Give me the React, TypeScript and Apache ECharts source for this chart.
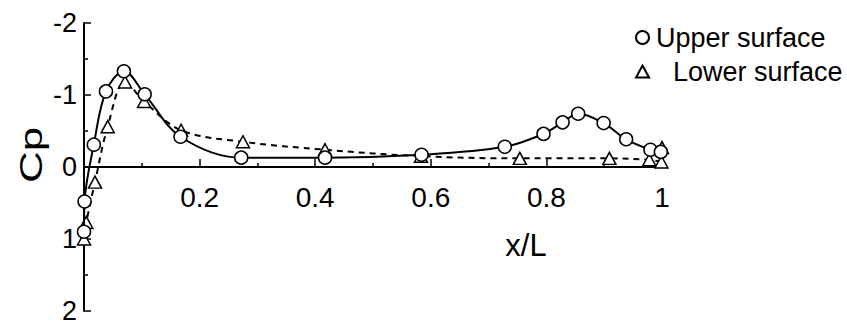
import React, { useEffect, useRef } from "react";
import * as echarts from "echarts";

const upperX = [0.0, 0.001, 0.017, 0.038, 0.069, 0.105, 0.167, 0.272, 0.417, 0.584, 0.728, 0.795, 0.828, 0.855, 0.899, 0.938, 0.98, 0.998];
const upperCp = [0.9, 0.48, -0.31, -1.05, -1.33, -1.01, -0.42, -0.13, -0.13, -0.17, -0.28, -0.46, -0.62, -0.74, -0.61, -0.385, -0.24, -0.21];

const lowerX = [0.0, 0.004, 0.019, 0.041, 0.071, 0.104, 0.168, 0.275, 0.417, 0.583, 0.754, 0.909, 0.978, 0.999, 1.0];
const lowerCp = [1.0, 0.77, 0.21, -0.56, -1.18, -0.91, -0.51, -0.35, -0.24, -0.15, -0.12, -0.12, -0.1, -0.07, -0.27];

const seriesNames = ["Upper surface", "Lower surface"];
const xTicks = { min: 0, max: 1, interval: 0.2 };
const yTicks = { min: -2, max: 2, interval: 1 };

const tickFont = "'Liberation Sans Narrow', 'Liberation Sans', Arial, sans-serif";
const mainFont = "'Liberation Sans', Arial, sans-serif";

const GRID_TOP = 23;
const GRID_BOTTOM = 14;
const H = 325;

export default function App() {
  const ref = useRef<HTMLDivElement>(null);
  useEffect(() => {
    if (!ref.current) return;
    const chart = echarts.init(ref.current, undefined, { renderer: "svg" });
    const upper = upperX.map((x, i) => [x, upperCp[i]]);
    const lower = lowerX.map((x, i) => [x, lowerCp[i]]);
    const gridH = H - GRID_TOP - GRID_BOTTOM;
    // distance from grid bottom up to Cp = 0 (y range -2..2)
    const zeroOffset = -gridH * ((yTicks.max - 0) / (yTicks.max - yTicks.min));
    chart.setOption({
      animation: false,
      backgroundColor: "#fff",
      grid: { left: 84, right: 185, top: GRID_TOP, bottom: GRID_BOTTOM, containLabel: false, outerBoundsMode: "none" },
      legend: [
        {
          data: [seriesNames[0]],
          left: 635,
          top: 24,
          padding: 0,
          orient: "vertical",
          icon: "circle",
          itemWidth: 13,
          itemHeight: 13,
          itemGap: 0,
          itemStyle: { color: "#fff", borderColor: "#000", borderWidth: 2 },
          textStyle: { fontSize: 27, color: "#000", fontFamily: mainFont, padding: [0, 0, 0, 2] },
        },
        {
          data: [seriesNames[1]],
          left: 635,
          top: 58,
          padding: 0,
          orient: "vertical",
          icon: "triangle",
          itemWidth: 13,
          itemHeight: 12,
          itemGap: 0,
          itemStyle: { color: "#fff", borderColor: "#000", borderWidth: 2 },
          textStyle: { fontSize: 27, color: "#000", fontFamily: mainFont, padding: [0, 0, 0, 19] },
        },
      ],
      xAxis: {
        type: "value",
        position: "bottom",
        offset: zeroOffset,
        min: xTicks.min,
        max: xTicks.max,
        interval: xTicks.interval,
        axisLine: { onZero: false, lineStyle: { color: "#000", width: 2 } },
        axisTick: { show: true, inside: true, length: 8, lineStyle: { color: "#000", width: 1.5 } },
        minorTick: { show: true, splitNumber: 2, length: 4, lineStyle: { color: "#000", width: 1.5 } },
        splitLine: { show: false },
        axisLabel: {
          showMinLabel: false,
          margin: 16,
          color: "#000",
          fontSize: 28,
          fontFamily: tickFont,
        },
      },
      yAxis: {
        type: "value",
        inverse: true,
        min: yTicks.min,
        max: yTicks.max,
        interval: yTicks.interval,
        axisLine: { show: true, onZero: false, lineStyle: { color: "#000", width: 2 } },
        axisTick: { show: true, inside: true, length: 7, lineStyle: { color: "#000", width: 1.5 } },
        minorTick: { show: true, splitNumber: 2, length: 4, lineStyle: { color: "#000", width: 1.5 } },
        splitLine: { show: false },
        axisLabel: { margin: 7, color: "#000", fontSize: 27, lineHeight: 22, fontFamily: tickFont },
      },
      graphic: [
        {
          type: "text",
          x: 31,
          y: 155,
          rotation: Math.PI / 2,
          scaleY: 0.72,
          style: {
            text: "Cp",
            fontSize: 44,
            fontFamily: mainFont,
            fill: "#000",
            textAlign: "center",
            textVerticalAlign: "middle",
          },
        },
        {
          type: "text",
          x: 526,
          y: 245,
          style: {
            text: "x/L",
            fontSize: 31,
            fontFamily: tickFont,
            fill: "#000",
            textAlign: "center",
            textVerticalAlign: "middle",
          },
        },
      ],
      series: [
        {
          name: seriesNames[1],
          type: "line",
          data: lower,
          smooth: 0.35,
          symbol: "triangle",
          symbolSize: [13, 12],
          z: 3,
          lineStyle: { color: "#000", width: 2, type: [6, 5] },
          itemStyle: { color: "#fff", borderColor: "#000", borderWidth: 1.5 },
        },
        {
          name: seriesNames[0],
          type: "line",
          data: upper,
          smooth: 0.35,
          symbol: "circle",
          symbolSize: 13,
          z: 4,
          lineStyle: { color: "#000", width: 2 },
          itemStyle: { color: "#fff", borderColor: "#000", borderWidth: 1.5 },
        },
      ],
    });
    return () => chart.dispose();
  }, []);
  return <div ref={ref} style={{ width: 847, height: 325, position: "absolute", left: 0, top: 0 }} />;
}
